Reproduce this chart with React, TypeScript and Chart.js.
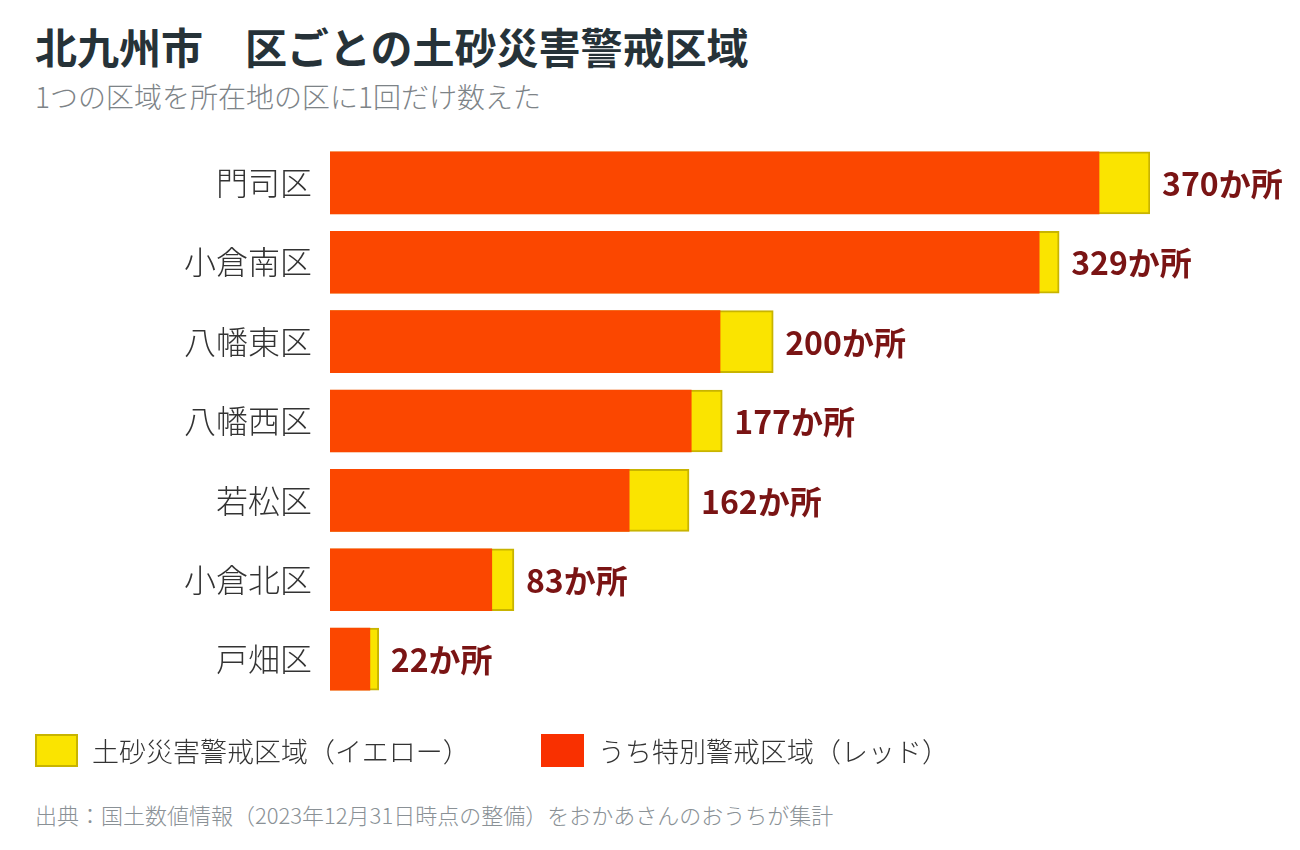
import { useEffect, useRef } from 'react';
import { Chart, registerables } from 'chart.js';

Chart.register(...registerables);

const wards = ['門司区', '小倉南区', '八幡東区', '八幡西区', '若松区', '小倉北区', '戸畑区'];
const totalZones = [370, 329, 200, 177, 162, 83, 22];
const redZones = [347, 320, 176, 163, 135, 73, 18];

const FONT = '"Noto Sans CJK JP", "Noto Sans", sans-serif';

const valueLabels = {
    id: 'valueLabels',
    afterDatasetsDraw(chart: Chart) {
        const ctx = chart.ctx;
        const meta = chart.getDatasetMeta(0);
        ctx.save();
        ctx.font = `bold 32px ${FONT}`;
        ctx.fillStyle = '#7a1414';
        ctx.textAlign = 'left';
        ctx.textBaseline = 'middle';
        meta.data.forEach((bar: any, i: number) => {
            ctx.fillText(`${totalZones[i]}か所`, bar.x + 12, bar.y + 1);
        });
        ctx.restore();
    },
};

const BarChart = () => {
    const chartRef = useRef<Chart | null>(null);
    const canvasRef = useRef<HTMLCanvasElement>(null);

    useEffect(() => {
        if (chartRef.current) {
            chartRef.current.destroy();
        }
        if (canvasRef.current) {
            chartRef.current = new Chart(canvasRef.current, {
                type: 'bar',
                data: {
                    labels: wards,
                    datasets: [
                        {
                            label: '土砂災害警戒区域（イエロー）',
                            data: totalZones,
                            backgroundColor: '#fae400',
                            borderColor: '#c8b400',
                            borderWidth: 2,
                            borderSkipped: false,
                            grouped: false,
                            order: 2,
                        },
                        {
                            label: 'うち特別警戒区域（レッド）',
                            data: redZones,
                            backgroundColor: '#fb4700',
                            borderWidth: 0,
                            grouped: false,
                            order: 1,
                        },
                    ],
                },
                options: {
                    indexAxis: 'y',
                    animation: false,
                    responsive: false,
                    maintainAspectRatio: false,
                    datasets: {
                        bar: { barThickness: 62 },
                    },
                    layout: { padding: { left: 0, right: 150, top: 0, bottom: 0 } },
                    scales: {
                        x: {
                            min: 0,
                            max: 370,
                            display: false,
                        },
                        y: {
                            grid: { display: false, drawTicks: false },
                            border: { display: false },
                            ticks: {
                                color: '#333333',
                                padding: 18,
                                font: { family: FONT, size: 32, weight: 300 },
                            },
                            afterFit(scale: any) {
                                scale.width = 330;
                            },
                        },
                    },
                    plugins: {
                        legend: { display: false },
                        title: { display: false },
                        tooltip: { enabled: false },
                    },
                },
                plugins: [valueLabels],
            });
        }
        return () => {
            if (chartRef.current) {
                chartRef.current.destroy();
            }
        };
    }, []);

    return (
        <canvas
            ref={canvasRef}
            width={1300}
            height={630}
            style={{ position: 'absolute', left: 0, top: 106, width: 1300, height: 630 }}
        ></canvas>
    );
};

const LegendItem = ({ color, border, text, left }: { color: string; border: string; text: string; left: number }) => (
    <div style={{ position: 'absolute', left, top: 731, display: 'flex', alignItems: 'center' }}>
        <div
            style={{
                width: 43,
                height: 33,
                boxSizing: 'border-box',
                background: color,
                border: `2px solid ${border}`,
            }}
        ></div>
        <span style={{ marginLeft: 14, fontSize: 27, fontWeight: 300, color: '#333333' }}>{text}</span>
    </div>
);

export default function App() {
    return (
        <div
            style={{
                position: 'absolute',
                left: 0,
                top: 0,
                width: 1300,
                height: 850,
                background: '#ffffff',
                fontFamily: FONT,
                overflow: 'hidden',
            }}
        >
            <div
                style={{
                    position: 'absolute',
                    left: 35,
                    top: 21,
                    fontSize: 42,
                    fontWeight: 700,
                    color: '#263238',
                    whiteSpace: 'pre',
                    lineHeight: 1.2,
                }}
            >
                北九州市　区ごとの土砂災害警戒区域
            </div>
            <div
                style={{
                    position: 'absolute',
                    left: 35,
                    top: 80,
                    fontSize: 28,
                    fontWeight: 300,
                    color: '#7d8387',
                    lineHeight: 1.2,
                }}
            >
                1つの区域を所在地の区に1回だけ数えた
            </div>
            <BarChart />
            <LegendItem color="#fae400" border="#c8b400" text="土砂災害警戒区域（イエロー）" left={35} />
            <LegendItem color="#f93000" border="#f93000" text="うち特別警戒区域（レッド）" left={541} />
            <div
                style={{
                    position: 'absolute',
                    left: 35,
                    top: 801,
                    fontSize: 22,
                    fontWeight: 300,
                    color: '#8a9196',
                    lineHeight: 1.2,
                }}
            >
                出典：国土数値情報（2023年12月31日時点の整備）をおかあさんのおうちが集計
            </div>
        </div>
    );
}
